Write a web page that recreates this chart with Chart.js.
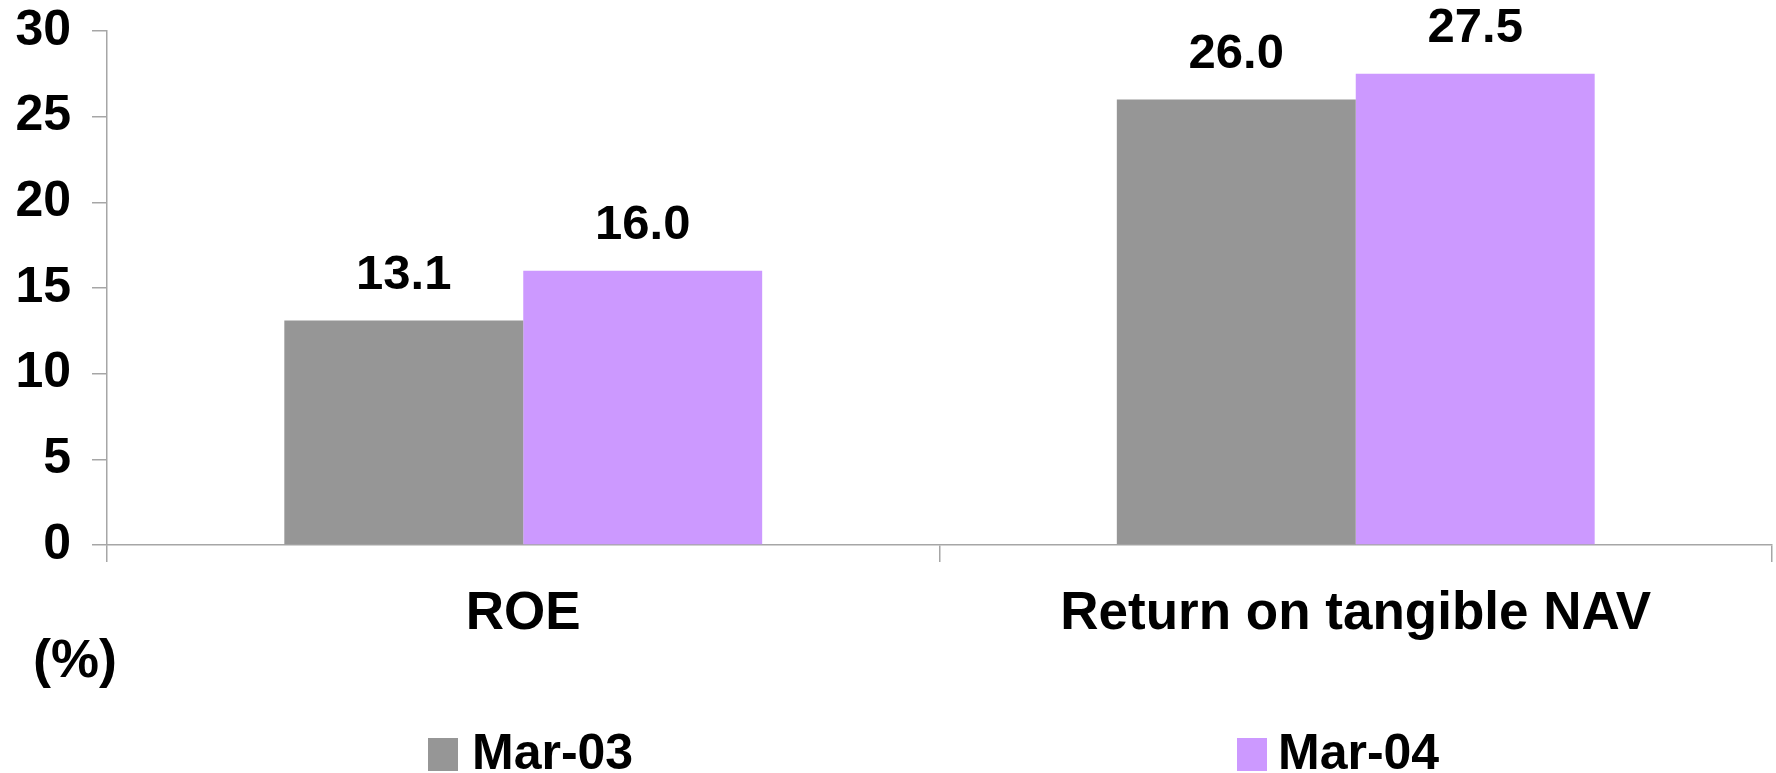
<!DOCTYPE html>
<html>
<head>
<meta charset="utf-8">
<script src="https://cdn.jsdelivr.net/npm/chart.js@4.4.0/dist/chart.umd.min.js"></script>
<style>
  html, body { margin: 0; padding: 0; background: #ffffff; overflow: hidden; }
  #wrap { width: 1776px; height: 773px; }
</style>
</head>
<body>
<div id="wrap"><canvas id="c" width="1776" height="773"></canvas></div>
<script>
// Categories and series values
const categories = ['ROE', 'Return on tangible NAV'];
const seriesNames = ['Mar-03', 'Mar-04'];
const mar03Values = [13.1, 26.0];
const mar04Values = [16.0, 27.5];
const seriesColors = ['#969696', '#CC99FF'];
const yAxisMin = 0;
const yAxisMax = 30;
const yAxisStep = 5;
const unitLabel = '(%)';

const FONT = '"Liberation Sans", Arial, Helvetica, sans-serif';

// Value labels printed above each bar
const valueLabels = {
  id: 'valueLabels',
  afterDatasetsDraw(chart) {
    const ctx = chart.ctx;
    ctx.save();
    ctx.font = 'bold 49px ' + FONT;
    ctx.fillStyle = '#000000';
    ctx.textAlign = 'center';
    ctx.textBaseline = 'alphabetic';
    chart.data.datasets.forEach((ds, di) => {
      const meta = chart.getDatasetMeta(di);
      meta.data.forEach((bar, i) => {
        ctx.fillText(Number(ds.data[i]).toFixed(1), bar.x, bar.y - 32);
      });
    });
    ctx.restore();
  }
};

// Unit note and the spread-out legend row under the axis
const notesAndLegend = {
  id: 'notesAndLegend',
  afterDraw(chart) {
    const ctx = chart.ctx;
    ctx.save();
    ctx.fillStyle = '#000000';
    ctx.textAlign = 'left';
    ctx.textBaseline = 'alphabetic';
    ctx.font = 'bold 54px ' + FONT;
    ctx.fillText(unitLabel, 33, 677);

    const items = [
      { boxX: 428, textX: 472 },
      { boxX: 1237, textX: 1278 }
    ];
    ctx.font = 'bold 50px ' + FONT;
    chart.data.datasets.forEach((ds, i) => {
      const it = items[i];
      ctx.fillStyle = ds.backgroundColor;
      ctx.fillRect(it.boxX, 738, 30, 33);
      ctx.fillStyle = '#000000';
      ctx.fillText(ds.label, it.textX, 769);
    });
    ctx.restore();
  }
};

const chart = new Chart(document.getElementById('c'), {
  type: 'bar',
  data: {
    labels: categories,
    datasets: [
      { label: seriesNames[0], data: mar03Values, backgroundColor: seriesColors[0], borderWidth: 0 },
      { label: seriesNames[1], data: mar04Values, backgroundColor: seriesColors[1], borderWidth: 0 }
    ]
  },
  options: {
    responsive: false,
    animation: false,
    devicePixelRatio: 1,
    layout: { padding: { top: 31, right: 4, left: 0, bottom: 0 } },
    datasets: {
      bar: { categoryPercentage: 0.574, barPercentage: 1.0 }
    },
    plugins: {
      legend: { display: false },
      tooltip: { enabled: false },
      title: { display: false }
    },
    scales: {
      x: {
        offset: true,
        grid: {
          offset: true,
          drawOnChartArea: false,
          drawTicks: true,
          tickLength: 17,
          color: '#a6a6a6',
          lineWidth: 1.5
        },
        border: { display: true, color: '#a6a6a6', width: 1.5 },
        ticks: {
          color: '#000000',
          font: { family: FONT, size: 53, weight: 'bold' },
          padding: 21,
          maxRotation: 0,
          autoSkip: false
        },
        afterFit(scale) {
          scale.height = 228;
          scale.paddingLeft = 0;
          scale.paddingRight = 0;
        }
      },
      y: {
        min: yAxisMin,
        max: yAxisMax,
        grid: {
          drawOnChartArea: false,
          drawTicks: true,
          tickLength: 15,
          color: '#a6a6a6',
          lineWidth: 1.5
        },
        border: { display: true, color: '#a6a6a6', width: 1.5 },
        ticks: {
          stepSize: yAxisStep,
          color: '#000000',
          font: { family: FONT, size: 50, weight: 'bold' },
          padding: 21
        },
        afterFit(scale) {
          scale.width = 107;
          scale.paddingTop = 0;
          scale.paddingBottom = 0;
        }
      }
    }
  },
  plugins: [valueLabels, notesAndLegend]
});
</script>
</body>
</html>
